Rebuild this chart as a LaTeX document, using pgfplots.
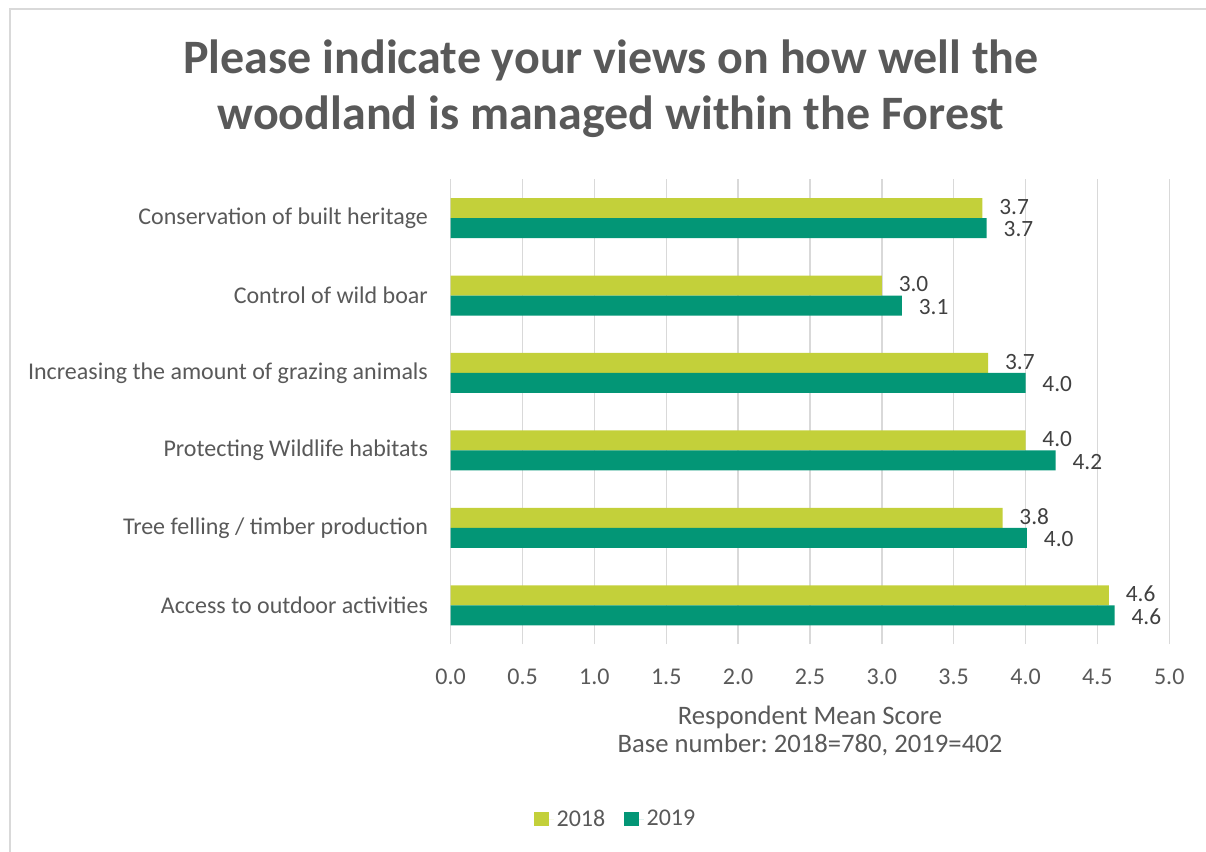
\documentclass[border=0pt]{standalone}
\usepackage{pgfplots}
\pgfplotsset{compat=1.18}
\usepackage{fontspec}
\setmainfont{Carlito}
\frenchspacing
\definecolor{cA}{RGB}{195,208,58}
\definecolor{cB}{RGB}{3,150,118}
\definecolor{txt}{RGB}{89,89,89}
\definecolor{lbl}{RGB}{64,64,64}
\definecolor{gridc}{RGB}{217,217,217}
\begin{document}
\begin{tikzpicture}
\useasboundingbox (0,0) rectangle (904.5pt,-639pt);
\draw[gridc, line width=1.1pt] (7.4pt,-6.9pt) rectangle (920pt,-660pt);
\node[anchor=base, font=\fontsize{36}{42}\selectfont\bfseries, text=txt] at (458.25pt,-55.1pt) {Please indicate your views on how well the};
\node[anchor=base, font=\fontsize{36}{42}\selectfont\bfseries, text=txt] at (458.25pt,-97.5pt) {woodland is managed within the Forest};
\begin{axis}[
  at={(338.0pt,-483.0pt)}, anchor=south west,
  scale only axis, width=538.95pt, height=348.5pt,
  xbar, bar width=15pt,
  xmin=0, xmax=5, ymin=-0.5, ymax=5.5,
  xtick={0,0.5,...,5},
  ytick={0,1,2,3,4,5},
  yticklabels={Access to outdoor activities, Tree felling / timber production, Protecting Wildlife habitats, Increasing the amount of grazing animals, Control of wild boar, Conservation of built heritage},
  xmajorgrids=true, ymajorgrids=false,
  grid style={draw=gridc, line width=1.1pt},
  axis line style={draw=none},
  major tick length=0pt,
  tick label style={font=\fontsize{18}{21}\selectfont, text=txt},
  /pgf/number format/assume math mode=true,
  xticklabel style={/pgf/number format/.cd, fixed, fixed zerofill, precision=1, /tikz/.cd, yshift=-15pt},
  yticklabel style={xshift=-13.5pt},
  xlabel={Respondent Mean Score\\Base number: 2018=780, 2019=402},
  xlabel style={at={(axis description cs:0.5,-0.187)}, anchor=center, align=center, font=\fontsize{20}{21}\selectfont, text=txt},
  nodes near coords,
  nodes near coords style={/pgf/number format/.cd, fixed, fixed zerofill, precision=1, assume math mode=true, /tikz/.cd, anchor=west, inner sep=0pt, xshift=12.5pt, font=\fontsize{17.5}{20}\selectfont, text=lbl},
  legend columns=2,
  legend style={at={(axis description cs:0.23,-0.3766)}, anchor=center, draw=none, fill=none, font=\fontsize{18}{21}\selectfont, text=txt, /tikz/every even column/.append style={column sep=12pt}},
  legend image code/.code={\fill[#1] (0pt,-5.6pt) rectangle (11.25pt,5.6pt); \path (0pt,0pt) -- (15pt,0pt);},
]
\addplot[fill=cA, draw=none, bar shift=7.5pt, every node near coord/.append style={/tikz/yshift=1pt}] coordinates {(4.58,0) (3.84,1) (4.00,2) (3.74,3) (3.00,4) (3.70,5)};
\addlegendentry{2018}
\addplot[fill=cB, draw=none, bar shift=-7.5pt, every node near coord/.append style={/tikz/yshift=-1pt}] coordinates {(4.62,0) (4.01,1) (4.21,2) (4.00,3) (3.14,4) (3.73,5)};
\addlegendentry{2019}
\end{axis}
\end{tikzpicture}
\end{document}
